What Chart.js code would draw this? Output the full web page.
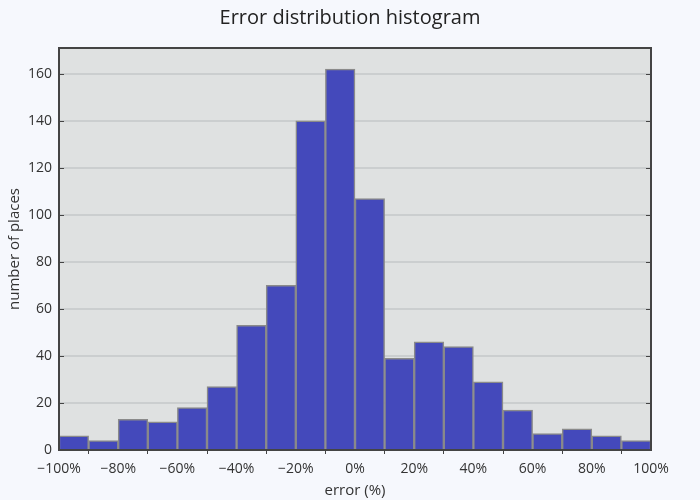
<!DOCTYPE html>
<html>
<head>
<meta charset="utf-8">
<script src="https://cdn.jsdelivr.net/npm/chart.js@4.4.1/dist/chart.umd.min.js"></script>
<style>
  html, body { margin: 0; padding: 0; background: #f6f8fd; }
  #wrap { width: 700px; height: 500px; }
</style>
</head>
<body>
<div id="wrap"><canvas id="histChart"></canvas></div>
<script>
// bin centres (%), bins are 10% wide from -100% to 100%
const binCenters = [-95, -85, -75, -65, -55, -45, -35, -25, -15, -5, 5, 15, 25, 35, 45, 55, 65, 75, 85, 95];
const counts = [6, 4, 13, 12, 18, 27, 53, 70, 140, 162, 107, 39, 46, 44, 29, 17, 7, 9, 6, 4];
const xTicks = [-100, -80, -60, -40, -20, 0, 20, 40, 60, 80, 100];
const yTicks = [0, 20, 40, 60, 80, 100, 120, 140, 160];

const fmtPct = (v) => (v < 0 ? "\u2212" + Math.abs(v) : v) + "%";

// plot background + frame + inside tick marks
const frame = {
  id: "frame",
  beforeDraw(chart) {
    const { ctx, chartArea: a } = chart;
    ctx.save();
    ctx.fillStyle = "#dfe1e1";
    ctx.fillRect(a.left, a.top, a.right - a.left, a.bottom - a.top);
    ctx.restore();
  },
  afterDraw(chart) {
    const { ctx, chartArea: a } = chart;
    const y = chart.scales.y;
    ctx.save();
    ctx.strokeStyle = "#444";
    ctx.lineWidth = 1;
    yTicks.forEach((t) => {
      const py = Math.round(y.getPixelForValue(t)) + 0.5;
      ctx.beginPath();
      ctx.moveTo(a.left, py);
      ctx.lineTo(a.left + 5, py);
      ctx.moveTo(a.right, py);
      ctx.lineTo(a.right - 5, py);
      ctx.stroke();
    });
    ctx.lineWidth = 2;
    ctx.strokeRect(a.left, a.top, a.right - a.left, a.bottom - a.top);
    ctx.restore();
  },
};

new Chart(document.getElementById("histChart"), {
  type: "bar",
  data: {
    datasets: [
      {
        label: "places",
        data: binCenters.map((c, i) => ({ x: c, y: counts[i] })),
        backgroundColor: "#4449bb",
        borderColor: "#8a8a8a",
        borderWidth: 1.5,
        barPercentage: 1,
        categoryPercentage: 1,
      },
    ],
  },
  options: {
    responsive: true,
    maintainAspectRatio: false,
    animation: false,
    layout: { padding: 0 },
    plugins: {
      legend: { display: false },
      tooltip: { enabled: false },
      title: {
        display: true,
        text: "Error distribution histogram",
        color: "#222",
        font: { family: "'Open Sans'", size: 20, weight: "normal" },
        padding: { top: 6, bottom: 18 },
      },
    },
    scales: {
      x: {
        type: "linear",
        min: -100,
        max: 100,
        offset: false,
        afterFit: (s) => { s.height = 50; },
        afterBuildTicks: (s) => { s.ticks = xTicks.map((v) => ({ value: v })); },
        grid: { drawOnChartArea: false, tickColor: "#444", tickLength: 4 },
        border: { display: false },
        ticks: {
          callback: fmtPct,
          color: "#333",
          padding: 7,
          maxRotation: 0,
          font: { family: "'Open Sans'", size: 14 },
        },
        title: {
          display: true,
          text: "error (%)",
          color: "#333",
          padding: { top: 2, bottom: 0 },
          font: { family: "'Open Sans'", size: 15 },
        },
      },
      y: {
        min: 0,
        max: 171,
        afterFit: (s) => { s.width = 59; },
        afterBuildTicks: (s) => { s.ticks = yTicks.map((v) => ({ value: v })); },
        grid: { color: "#cbcecf", lineWidth: 2, drawTicks: false },
        border: { display: false },
        ticks: {
          color: "#333",
          padding: 7,
          font: { family: "'Open Sans'", size: 14 },
        },
        title: {
          display: true,
          text: "number of places",
          color: "#333",
          padding: { top: 6, bottom: 0 },
          font: { family: "'Open Sans'", size: 15 },
        },
      },
      yRight: {
        position: "right",
        afterFit: (s) => { s.width = 49; },
        grid: { drawOnChartArea: false, drawTicks: false },
        border: { display: false },
        ticks: { display: false },
      },
    },
  },
  plugins: [frame],
});
</script>
</body>
</html>
